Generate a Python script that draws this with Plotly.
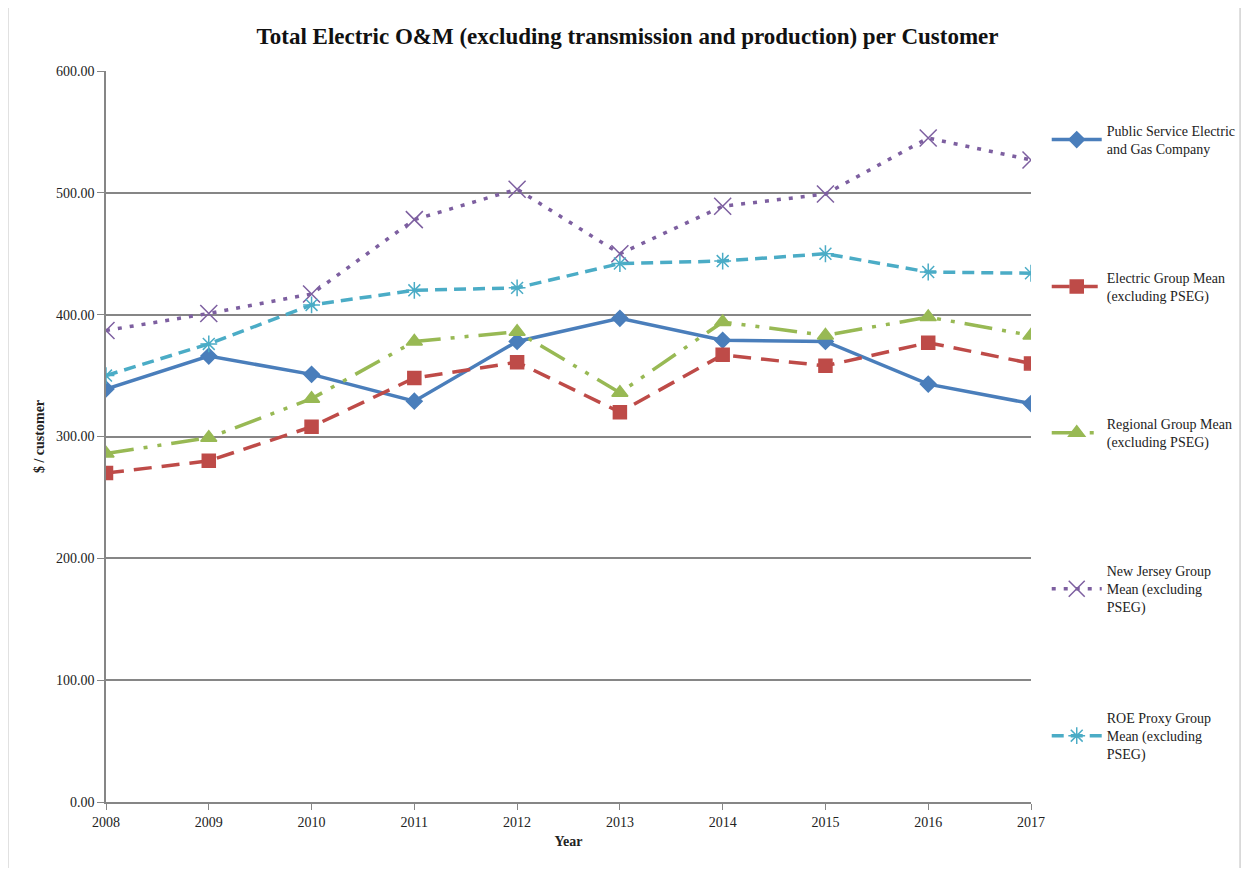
import plotly.graph_objects as go

years = [2008, 2009, 2010, 2011, 2012, 2013, 2014, 2015, 2016, 2017]
pseg = [339, 366, 351, 329, 378, 397, 379, 378, 343, 327]
electric = [270, 280, 308, 348, 361, 320, 367, 358, 377, 360]
regional = [286, 299, 331, 378, 386, 336, 394, 383, 398, 383]
nj = [387, 401, 417, 478, 503, 450, 489, 499, 545, 527]
roe = [350, 376, 408, 420, 422, 442, 444, 450, 435, 434]
yticks = [0, 100, 200, 300, 400, 500, 600]

names = [
    "Public Service Electric<br>and Gas Company",
    "Electric Group Mean<br>(excluding PSEG)",
    "Regional Group Mean<br>(excluding PSEG)",
    "New Jersey Group<br>Mean (excluding<br>PSEG)",
    "ROE Proxy Group<br>Mean (excluding<br>PSEG)",
]
series = [pseg, electric, regional, nj, roe]
colors = ["#4A7EBB", "#BE4B48", "#98B954", "#7D5FA0", "#4BACC6"]
dashes = ["solid", "18px,10px", "28px,10px,4px,10px,4px,10px", "4px,8px", "12px,7px"]
symbols = ["diamond", "square", "triangle-up", "x-thin-open", "asterisk-open"]
msizes = [12, 13, 14, 17, 14]
legend_y = [0.94, 0.739, 0.539, 0.338, 0.137]

fig = go.Figure()
for i in range(5):
    fig.add_trace(go.Scatter(
        x=years, y=series[i], name=names[i], mode="lines+markers",
        line=dict(color=colors[i], width=3.5, dash=dashes[i]),
        marker=dict(symbol=symbols[i], size=msizes[i], color=colors[i],
                    line=dict(color=colors[i], width=1.5)),
        legend="legend" if i == 0 else f"legend{i+1}",
    ))

font = "Liberation Serif, Times New Roman, serif"
leg = dict(x=1.017, xanchor="left", yanchor="top", bgcolor="rgba(0,0,0,0)",
           font=dict(family=font, size=14, color="#222"), itemwidth=50,
           tracegroupgap=0)
layout_legends = {}
for i in range(5):
    key = "legend" if i == 0 else f"legend{i+1}"
    layout_legends[key] = dict(leg, y=legend_y[i])

fig.update_layout(
    width=1239, height=860,
    margin=dict(l=98, r=216, t=63, b=66, autoexpand=False),
    paper_bgcolor="white", plot_bgcolor="white",
    font=dict(family=font, size=14, color="#222"),
    title=dict(text="<b>Total Electric O&M (excluding transmission and production) per Customer</b>",
               x=0.5, xanchor="center", xref="container", y=0.968, yanchor="middle",
               font=dict(family=font, size=23, color="#111")),
    showlegend=True,
    **layout_legends,
)
fig.update_xaxes(
    range=[2008, 2017], tickvals=years, ticktext=[str(y) for y in years],
    showgrid=False, showline=True, linecolor="#868686", linewidth=1.5,
    ticks="outside", ticklen=6, tickcolor="#868686",
    tickfont=dict(family=font, size=14, color="#222"),
    title=dict(text="<b>Year</b>", font=dict(family=font, size=14, color="#222"), standoff=8),
    zeroline=False,
)
fig.update_yaxes(
    range=[0, 600], tickvals=yticks, ticktext=[f"{v:.2f}" for v in yticks],
    showgrid=True, gridcolor="#868686", gridwidth=1.5,
    showline=True, linecolor="#868686", linewidth=1.5,
    ticks="outside", ticklen=7, tickcolor="#868686",
    tickfont=dict(family=font, size=14, color="#222"),
    title=dict(text="<b>$ / customer</b>", font=dict(family=font, size=14, color="#222"), standoff=8),
    zeroline=False,
)
fig.add_shape(type="rect", xref="paper", yref="paper", x0=-0.106, x1=1.226, y0=-0.2, y1=1.094,
              line=dict(color="#BBBBBB", width=1), fillcolor="rgba(0,0,0,0)", layer="below")
fig.write_html("out.html")
